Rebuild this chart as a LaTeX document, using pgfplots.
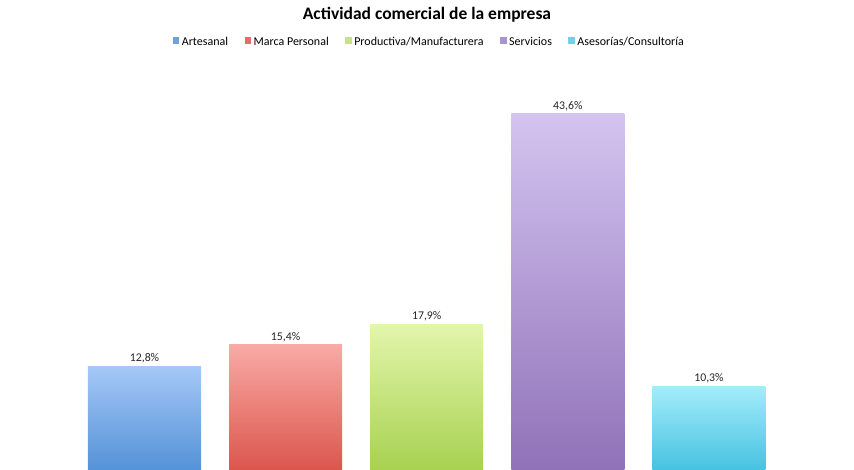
\documentclass[border=0pt]{standalone}
\usepackage{fontspec}
\setmainfont{Carlito}
\usepackage{pgfplots}
\pgfplotsset{compat=1.18}

\definecolor{blueT}{RGB}{165,200,246}
\definecolor{blueB}{RGB}{84,146,216}
\definecolor{redT}{RGB}{249,170,165}
\definecolor{redB}{RGB}{219,86,76}
\definecolor{greenT}{RGB}{226,246,172}
\definecolor{greenB}{RGB}{168,209,80}
\definecolor{purpT}{RGB}{212,196,240}
\definecolor{purpB}{RGB}{144,114,184}
\definecolor{cyanT}{RGB}{164,236,250}
\definecolor{cyanB}{RGB}{70,194,225}

\begin{document}
\begin{tikzpicture}
\useasboundingbox (0,0) rectangle (854pt,470pt);
\begin{axis}[
    at={(0,0)}, anchor=south west,
    scale only axis,
    width=854pt, height=470pt,
    hide axis, clip=true,
    ybar, bar width=113pt, bar shift=0pt,
    xmin=-1.024, xmax=5.028,
    ymin=0.13, ymax=57.49,
    /pgf/number format/assume math mode=true,
    nodes near coords={\pgfmathprintnumber[fixed,fixed zerofill,precision=1,use comma]{\pgfplotspointmeta}\%},
    every node near coord/.append style={font=\fontsize{11.8}{14}\selectfont, text=black!85, inner sep=3pt},
    legend image code/.code={\fill[#1, draw=none] (0pt,-2pt) rectangle (6.5pt,4.5pt);},
    legend style={draw=none, fill=none, legend columns=5,
        at={(rel axis cs:0.503,0.911)}, anchor=center,
        font=\fontsize{12}{14}\selectfont,
        /tikz/every even column/.append style={column sep=14pt},
        nodes={inner xsep=2.5pt}},
]
\addplot[draw=none, top color=blueT, bottom color=blueB, forget plot] coordinates {(0,12.8)};
\addplot[draw=none, top color=redT, bottom color=redB, forget plot] coordinates {(1,15.4)};
\addplot[draw=none, top color=greenT, bottom color=greenB, forget plot] coordinates {(2,17.9)};
\addplot[draw=none, top color=purpT, bottom color=purpB, forget plot] coordinates {(3,43.6)};
\addplot[draw=none, top color=cyanT, bottom color=cyanB, forget plot] coordinates {(4,10.3)};
\addlegendimage{fill=blueB!85!white}
\addlegendentry{Artesanal}
\addlegendimage{fill=redB!85!white}
\addlegendentry{Marca Personal}
\addlegendimage{fill=greenT!50!greenB}
\addlegendentry{Productiva/Manufacturera}
\addlegendimage{fill=purpT!40!purpB}
\addlegendentry{Servicios}
\addlegendimage{fill=cyanT!40!cyanB}
\addlegendentry{Asesorías/Consultoría}
\node[font=\bfseries\fontsize{17.5}{21}\selectfont] at (rel axis cs:0.5,0.969) {Actividad comercial de la empresa};
\end{axis}
\end{tikzpicture}
\end{document}
